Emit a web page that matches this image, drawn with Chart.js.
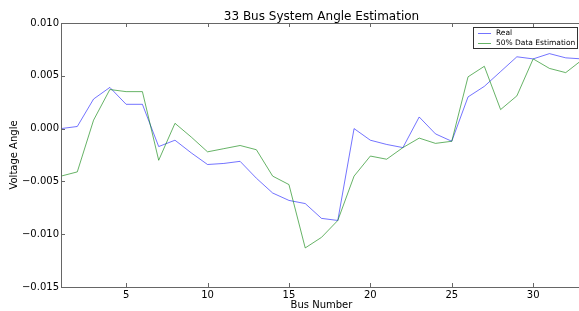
<!DOCTYPE html>
<html>
<head>
<meta charset="utf-8">
<script src="https://cdn.jsdelivr.net/npm/chart.js@4/dist/chart.umd.min.js"></script>
<style>
  html, body { margin: 0; padding: 0; background: #fff; overflow: hidden; }
  canvas { display: block; }
</style>
</head>
<body>
<canvas id="chart" width="584" height="311"></canvas>
<script>
// data
const busNumbers = [1,2,3,4,5,6,7,8,9,10,11,12,13,14,15,16,17,18,19,20,21,22,23,24,25,26,27,28,29,30,31,32,33];
const realAngle = [0.0000, 0.0002, 0.0028, 0.0039, 0.0023, 0.0023, -0.0017, -0.0011, -0.0023, -0.0034, -0.0033,
    -0.0031, -0.0047, -0.0061, -0.0068, -0.0071, -0.0085, -0.0087, 0.0000, -0.0011, -0.0015, -0.0018, 0.0011,
    -0.0005, -0.0012, 0.0030, 0.0040, 0.0054, 0.0068, 0.0066, 0.0071, 0.0067, 0.0066];
const estAngle = [-0.0045, -0.0041, 0.0008, 0.0037, 0.0035, 0.0035, -0.0030, 0.0005, -0.0008, -0.0022, -0.0019,
    -0.0016, -0.0020, -0.0045, -0.0053, -0.0113, -0.0103, -0.0087, -0.0045, -0.0026, -0.0029, -0.0018, -0.0009,
    -0.0014, -0.0012, 0.0049, 0.0059, 0.0018, 0.0031, 0.0066, 0.0057, 0.0053, 0.0065];
const xTicks = [5, 10, 15, 20, 25, 30];
const yTicks = [-0.015, -0.010, -0.005, 0.000, 0.005, 0.010];
const seriesNames = ['Real', '50% Data Estimation'];

const FONT = 'DejaVu Sans';
const spineColor = '#666';

function toPoints(values) {
    return values.map((v, i) => ({ x: busNumbers[i], y: v }));
}

function fmtY(v) {
    const s = Math.abs(v).toFixed(3);
    return (v < -1e-9 ? '\u2212' : '') + s;
}

// frame, inward ticks, title, axis labels, legend
const decorations = {
    id: 'decorations',
    afterDatasetsDraw(chart) {
        const ctx = chart.ctx;
        const a = chart.chartArea;
        const xs = chart.scales.x, ys = chart.scales.y;
        ctx.save();
        ctx.strokeStyle = spineColor;
        ctx.lineWidth = 1;
        ctx.strokeRect(Math.round(a.left) + 0.5, Math.round(a.top) + 0.5,
            Math.round(a.right - a.left), Math.round(a.bottom - a.top));

        ctx.beginPath();
        xTicks.forEach(t => {
            const px = Math.round(xs.getPixelForValue(t)) + 0.5;
            ctx.moveTo(px, a.bottom); ctx.lineTo(px, a.bottom - 4);
            ctx.moveTo(px, a.top); ctx.lineTo(px, a.top + 4);
        });
        yTicks.forEach(t => {
            const py = Math.round(ys.getPixelForValue(t)) + 0.5;
            ctx.moveTo(a.left, py); ctx.lineTo(a.left + 4, py);
        });
        ctx.stroke();

        // title
        ctx.fillStyle = '#000';
        ctx.font = '12px "' + FONT + '"';
        ctx.textAlign = 'center';
        ctx.textBaseline = 'alphabetic';
        const cx = (a.left + a.right) / 2;
        ctx.fillText('33 Bus System Angle Estimation', cx, a.top - 3);

        // axis labels
        ctx.font = '10px "' + FONT + '"';
        ctx.textBaseline = 'middle';
        ctx.fillText('Bus Number', cx, 305);
        ctx.save();
        ctx.translate(14, (a.top + a.bottom) / 2);
        ctx.rotate(-Math.PI / 2);
        ctx.fillText('Voltage Angle', 0, 0);
        ctx.restore();

        // legend
        const bx = a.right - 109, by = a.top + 4, bw = 104, bh = 21;
        ctx.fillStyle = '#fff';
        ctx.fillRect(bx, by, bw, bh);
        ctx.strokeStyle = '#333';
        ctx.strokeRect(Math.round(bx) + 0.5, Math.round(by) + 0.5, bw, bh);
        ctx.font = '7.5px "' + FONT + '"';
        ctx.textAlign = 'left';
        chart.data.datasets.forEach((ds, i) => {
            const ly = Math.round(by + 6 + i * 10) + 0.5;
            ctx.strokeStyle = ds.borderColor;
            ctx.beginPath();
            ctx.moveTo(bx + 5, ly); ctx.lineTo(bx + 18, ly);
            ctx.stroke();
            ctx.fillStyle = '#000';
            ctx.fillText(ds.label, bx + 23, ly);
        });
        ctx.restore();
    }
};

new Chart(document.getElementById('chart'), {
    type: 'line',
    data: {
        datasets: [
            { label: seriesNames[0], data: toPoints(realAngle), borderColor: 'rgba(0,0,255,0.55)', order: 2 },
            { label: seriesNames[1], data: toPoints(estAngle), borderColor: 'rgba(0,128,0,0.6)', order: 1 }
        ]
    },
    options: {
        responsive: false,
        animation: false,
        events: [],
        layout: { padding: { top: 23, right: 2, left: 0, bottom: 0 } },
        elements: {
            line: { borderWidth: 1, tension: 0, fill: false },
            point: { radius: 0 }
        },
        plugins: { legend: { display: false }, tooltip: { enabled: false }, title: { display: false } },
        scales: {
            x: {
                type: 'linear',
                min: 1, max: 33,
                grid: { display: false, drawTicks: false },
                border: { display: false },
                afterBuildTicks: s => { s.ticks = xTicks.map(v => ({ value: v })); },
                afterFit: s => { s.height = 24; },
                ticks: { font: { family: FONT, size: 10 }, color: '#000', padding: 2, maxRotation: 0 }
            },
            y: {
                min: -0.015, max: 0.010,
                grid: { display: false, drawTicks: false },
                border: { display: false },
                afterBuildTicks: s => { s.ticks = yTicks.map(v => ({ value: v })); },
                afterFit: s => { s.width = 61; },
                ticks: { font: { family: FONT, size: 10 }, color: '#000', padding: 2, callback: v => fmtY(v) }
            }
        }
    },
    plugins: [decorations]
});
</script>
</body>
</html>
